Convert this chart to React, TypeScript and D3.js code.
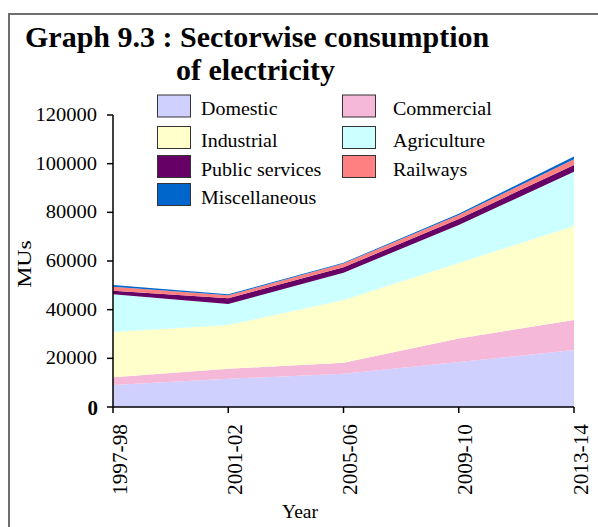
import React from "react";
import * as d3 from "d3";

const years = ["1997-98", "2001-02", "2005-06", "2009-10", "2013-14"];
const domestic = [9000, 11600, 13700, 18500, 23400];
const commercial = [3200, 4100, 4500, 9700, 12400];
const industrial = [18600, 18000, 25800, 31000, 38600];
const agriculture = [15500, 8600, 11200, 15600, 22300];
const publicServices = [1500, 2400, 2200, 2500, 2800];
const railways = [1600, 1200, 1600, 1600, 2300];
const miscellaneous = [700, 400, 300, 500, 1100];
const yTicks = [0, 20000, 40000, 60000, 80000, 100000, 120000];

const seriesNames = ["Domestic", "Commercial", "Industrial", "Agriculture", "Public services", "Railways", "Miscellaneous"];
const seriesValues = [domestic, commercial, industrial, agriculture, publicServices, railways, miscellaneous];
const seriesColors = ["#d0d0ff", "#f6b8d8", "#ffffcc", "#ccffff", "#660066", "#ff8080", "#0066cc"];
// legend order: two columns
const legendCol1 = ["Domestic", "Industrial", "Public services", "Miscellaneous"];
const legendCol2 = ["Commercial", "Agriculture", "Railways"];

const FONT = "'Liberation Serif', 'Times New Roman', serif";

function SText(props: {
  x: number; y: number; rot?: number; sx?: number; size: number; anchor?: string; weight?: string; children: any;
}) {
  const { x, y, rot = 0, sx = 1, size, anchor = "start", weight = "normal", children } = props;
  return (
    <text
      transform={`translate(${x},${y}) rotate(${rot}) scale(${sx},1)`}
      fontFamily={FONT}
      fontSize={size}
      fontWeight={weight}
      textAnchor={anchor}
      fill="#000"
    >
      {children}
    </text>
  );
}

export default function App() {
  const W = 598, H = 527;
  const x = d3.scalePoint<string>().domain(years).range([113, 574]);
  const y = d3.scaleLinear().domain([0, 120000]).range([407, 115]);

  const rows = years.map((yr, i) => {
    const r: any = { year: yr };
    seriesNames.forEach((n, k) => (r[n] = seriesValues[k][i]));
    return r;
  });
  const stacked = d3.stack<any>().keys(seriesNames)(rows);
  const area = d3
    .area<any>()
    .x((d) => x(d.data.year) as number)
    .y0((d) => y(d[0]))
    .y1((d) => y(d[1]));

  const colorOf = (n: string) => seriesColors[seriesNames.indexOf(n)];
  const rowTops = [95, 126.5, 155.5, 183.5];

  return (
    <svg width={W} height={H} style={{ position: "absolute", left: 0, top: 0, background: "#fff" }}>
      {/* frame */}
      <rect x={9} y={14} width={700} height={600} fill="none" stroke="#6e6e6e" strokeWidth={2} />

      {/* title */}
      <SText x={25} y={47} size={30} weight="bold">Graph 9.3 : Sectorwise consumption</SText>
      <SText x={176} y={80} size={30} weight="bold">of electricity</SText>

      {/* areas */}
      {stacked.map((s) => (
        <path key={s.key} d={area(s) as string} fill={colorOf(s.key)} stroke="none" />
      ))}

      {/* legend */}
      {legendCol1.map((n, i) => (
        <g key={n}>
          <rect x={157.5} y={rowTops[i]} width={33} height={22} fill={colorOf(n)} stroke="#333" strokeWidth={1} />
          <SText x={201} y={rowTops[i] + 20} size={18} sx={1.11}>{n}</SText>
        </g>
      ))}
      {legendCol2.map((n, i) => (
        <g key={n}>
          <rect x={342.5} y={rowTops[i]} width={33} height={22} fill={colorOf(n)} stroke="#333" strokeWidth={1} />
          <SText x={393} y={rowTops[i] + 20} size={18} sx={1.11}>{n}</SText>
        </g>
      ))}

      {/* y axis */}
      <line x1={113} x2={113} y1={y(120000)} y2={y(0)} stroke="#000" strokeWidth={1.5} />
      {yTicks.map((t) => (
        <g key={t}>
          <line x1={107} x2={113} y1={y(t)} y2={y(t)} stroke="#000" strokeWidth={1.5} />
          {t === 0 ? (
            <SText x={98} y={y(t) + 7.5} size={21} weight="bold" anchor="end">{t}</SText>
          ) : (
            <SText x={97} y={y(t) + 6} size={18} sx={1.14} anchor="end">{t}</SText>
          )}
        </g>
      ))}

      {/* x axis */}
      <line x1={113} x2={574} y1={y(0)} y2={y(0)} stroke="#000" strokeWidth={1.5} />
      {years.map((yr) => (
        <g key={yr}>
          <line x1={x(yr)} x2={x(yr)} y1={y(0)} y2={y(0) + 6} stroke="#000" strokeWidth={1.5} />
          <SText x={(x(yr) as number) + 13.5} y={424} rot={-90} size={20} sx={1.065} anchor="end">{yr}</SText>
        </g>
      ))}

      {/* axis titles */}
      <SText x={30.5} y={264} rot={-90} size={19} sx={1.25} anchor="middle">MUs</SText>
      <SText x={300} y={518} size={19.5} anchor="middle">Year</SText>
    </svg>
  );
}
